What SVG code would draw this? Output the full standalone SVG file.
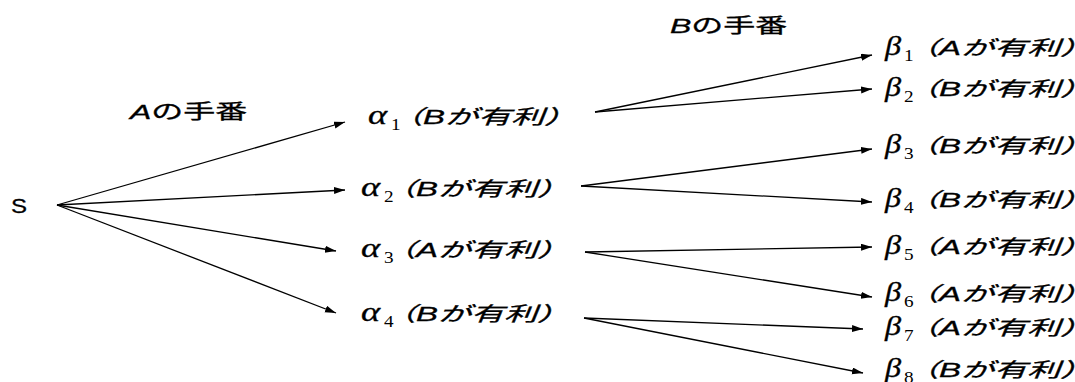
<svg xmlns="http://www.w3.org/2000/svg" width="1075" height="382" viewBox="0 0 1075 382">
  <style>
    text { fill: #000; }
    .hd { font-family: "Liberation Sans", "Noto Sans CJK JP", sans-serif; font-size: 20px; stroke: #000; stroke-width: 0.3; }
    .it { font-style: italic; }
    .gk { font-family: "Liberation Serif", "DejaVu Serif", serif; font-style: italic; font-size: 27px; stroke: #000; stroke-width: 0.3; }
    .sb { font-family: "Liberation Serif", "DejaVu Serif", serif; font-size: 16px; }
    .lb { font-family: "Liberation Sans", "Noto Sans CJK JP", sans-serif; font-style: italic; font-size: 20px; stroke: #000; stroke-width: 0.3; }
    .edge { stroke: #000; stroke-width: 1.3; fill: none; marker-end: url(#head); }
  </style>
  <defs>
    <marker id="head" markerUnits="userSpaceOnUse" markerWidth="12" markerHeight="8" refX="11" refY="3.5" orient="auto">
      <path d="M0,0 L11,3.5 L0,7 Z" fill="#000"/>
    </marker>
  </defs>
  <rect width="1075" height="382" fill="#fff"/>

  <!-- headings -->
  <g id="turnA">
    <text class="hd" transform="translate(130,119) scale(1.6,1)"><tspan class="it">A</tspan>の手番</text>
  </g>
  <g id="turnB">
    <text class="hd" transform="translate(670,33) scale(1.6,1)"><tspan class="it">B</tspan>の手番</text>
  </g>

  <!-- root -->
  <g id="S">
    <text class="hd" font-size="25" transform="translate(11,213) scale(1.2,1)">S</text>
  </g>

  <!-- first move: greek letter, index, outcome -->
  <g id="alpha1">
    <text class="gk" transform="translate(368,124) scale(1.35,1)">α</text>
    <text class="sb" transform="translate(391,130) scale(1.2,1)">1</text>
    <text class="lb" transform="translate(390,124) scale(1.65,1)">（Bが有利）</text>
  </g>
  <g id="alpha2">
    <text class="gk" transform="translate(361,196) scale(1.35,1)">α</text>
    <text class="sb" transform="translate(384,202) scale(1.2,1)">2</text>
    <text class="lb" transform="translate(383,196) scale(1.65,1)">（Bが有利）</text>
  </g>
  <g id="alpha3">
    <text class="gk" transform="translate(361,257) scale(1.35,1)">α</text>
    <text class="sb" transform="translate(384,263) scale(1.2,1)">3</text>
    <text class="lb" transform="translate(383,257) scale(1.65,1)">（Aが有利）</text>
  </g>
  <g id="alpha4">
    <text class="gk" transform="translate(361,321) scale(1.35,1)">α</text>
    <text class="sb" transform="translate(384,327) scale(1.2,1)">4</text>
    <text class="lb" transform="translate(383,321) scale(1.65,1)">（Bが有利）</text>
  </g>

  <!-- second move -->
  <g id="beta1">
    <text class="gk" transform="translate(885,55) scale(1.2,1)">β</text>
    <text class="sb" transform="translate(904,61) scale(1.2,1)">1</text>
    <text class="lb" transform="translate(906,55) scale(1.65,1)">（Aが有利）</text>
  </g>
  <g id="beta2">
    <text class="gk" transform="translate(885,96) scale(1.2,1)">β</text>
    <text class="sb" transform="translate(904,102) scale(1.2,1)">2</text>
    <text class="lb" transform="translate(906,96) scale(1.65,1)">（Bが有利）</text>
  </g>
  <g id="beta3">
    <text class="gk" transform="translate(885,153) scale(1.2,1)">β</text>
    <text class="sb" transform="translate(904,159) scale(1.2,1)">3</text>
    <text class="lb" transform="translate(906,153) scale(1.65,1)">（Bが有利）</text>
  </g>
  <g id="beta4">
    <text class="gk" transform="translate(885,207) scale(1.2,1)">β</text>
    <text class="sb" transform="translate(904,213) scale(1.2,1)">4</text>
    <text class="lb" transform="translate(906,207) scale(1.65,1)">（Bが有利）</text>
  </g>
  <g id="beta5">
    <text class="gk" transform="translate(885,254) scale(1.2,1)">β</text>
    <text class="sb" transform="translate(904,260) scale(1.2,1)">5</text>
    <text class="lb" transform="translate(906,254) scale(1.65,1)">（Aが有利）</text>
  </g>
  <g id="beta6">
    <text class="gk" transform="translate(885,301) scale(1.2,1)">β</text>
    <text class="sb" transform="translate(904,307) scale(1.2,1)">6</text>
    <text class="lb" transform="translate(906,301) scale(1.65,1)">（Aが有利）</text>
  </g>
  <g id="beta7">
    <text class="gk" transform="translate(885,335) scale(1.2,1)">β</text>
    <text class="sb" transform="translate(904,341) scale(1.2,1)">7</text>
    <text class="lb" transform="translate(906,335) scale(1.65,1)">（Aが有利）</text>
  </g>
  <g id="beta8">
    <text class="gk" transform="translate(885,377) scale(1.2,1)">β</text>
    <text class="sb" transform="translate(904,383) scale(1.2,1)">8</text>
    <text class="lb" transform="translate(906,377) scale(1.65,1)">（Bが有利）</text>
  </g>

  <!-- connectors -->
  <g id="connectors">
    <line class="edge" x1="57" y1="205" x2="345" y2="122"/>
    <line class="edge" x1="57" y1="205" x2="345" y2="190"/>
    <line class="edge" x1="57" y1="205" x2="336" y2="251"/>
    <line class="edge" x1="57" y1="205" x2="336" y2="313"/>

    <line class="edge" x1="595" y1="112" x2="872" y2="55"/>
    <line class="edge" x1="595" y1="112" x2="872" y2="89"/>
    <line class="edge" x1="581" y1="186" x2="872" y2="149"/>
    <line class="edge" x1="581" y1="186" x2="872" y2="202"/>
    <line class="edge" x1="585" y1="252" x2="872" y2="247"/>
    <line class="edge" x1="585" y1="252" x2="872" y2="297"/>
    <line class="edge" x1="584" y1="318" x2="863" y2="329"/>
    <line class="edge" x1="584" y1="318" x2="863" y2="373"/>
  </g>
</svg>
